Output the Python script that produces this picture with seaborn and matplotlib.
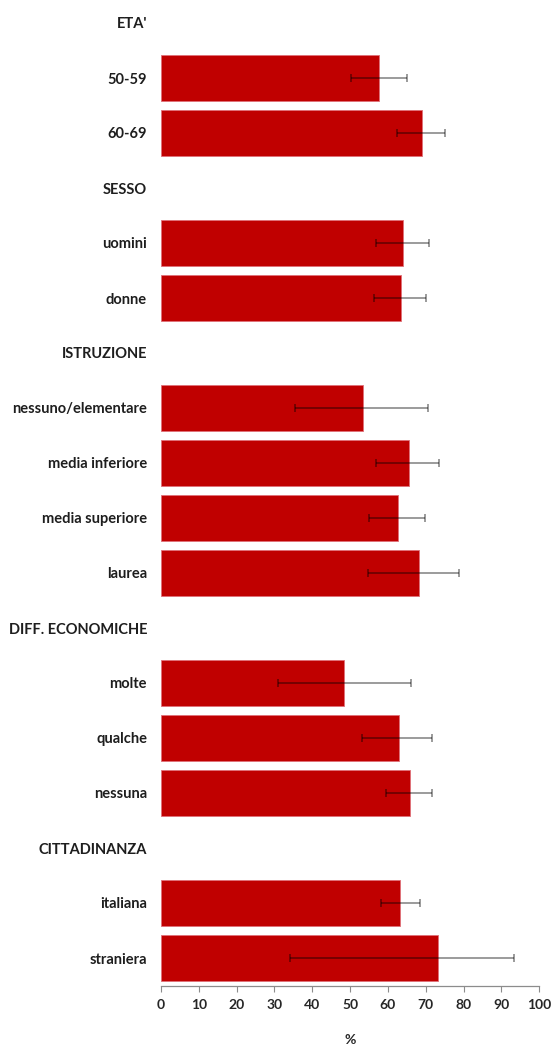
import matplotlib
matplotlib.use("Agg")
import matplotlib.pyplot as plt
import seaborn as sns
import pandas as pd
import numpy as np

# Row labels, top to bottom (group headers have no bar)
row_labels = ["ETA'", "50-59", "60-69",
              "SESSO", "uomini", "donne",
              "ISTRUZIONE", "nessuno/elementare", "media inferiore", "media superiore", "laurea",
              "DIFF. ECONOMICHE", "molte", "qualche", "nessuna",
              "CITTADINANZA", "italiana", "straniera"]

categories = ["50-59", "60-69", "uomini", "donne",
              "nessuno/elementare", "media inferiore", "media superiore", "laurea",
              "molte", "qualche", "nessuna", "italiana", "straniera"]
values = [57.6, 68.9, 64.1, 63.4, 53.4, 65.6, 62.7, 68.1, 48.3, 62.8, 65.9, 63.3, 73.1]
ci_low = [50.1, 62.4, 56.8, 56.3, 35.4, 56.8, 54.9, 54.7, 30.9, 53.1, 59.5, 58.2, 34.0]
ci_high = [65.0, 75.1, 70.9, 70.0, 70.7, 73.4, 69.9, 78.9, 66.1, 71.6, 71.7, 68.5, 93.3]

x_ticks = list(range(0, 101, 10))

sns.set_theme(style="white")
plt.rcParams['font.family'] = ['Lato', 'DejaVu Sans']

W, H = 553, 1046
fig = plt.figure(figsize=(W / 100, H / 100), dpi=100)
# axes placed in pixel coordinates
left_px, right_px = 161, 539.3
top_px, bottom_px = -4.5, 985.5
ax = fig.add_axes([left_px / W, (H - bottom_px) / H,
                   (right_px - left_px) / W, (bottom_px - top_px) / H])

df = pd.DataFrame({"label": categories, "value": values})
sns.barplot(data=df, x="value", y="label", order=row_labels, orient="h",
            color="#C00000", saturation=1, width=0.82,
            edgecolor="#e07078", linewidth=0.6, ax=ax)

pos = {lab: i for i, lab in enumerate(row_labels)}
ypos = [pos[c] for c in categories]
v = np.array(values)
err = [v - np.array(ci_low), np.array(ci_high) - v]
# semi-transparent black: dark over the bars, grey over the background
ax.errorbar(values, ypos, xerr=err, fmt="none", ecolor=(0, 0, 0, 0.5),
            elinewidth=1.1, capsize=3, capthick=1.1, zorder=5)

ax.set_xlim(0, 100)
ax.set_ylim(17.5, -0.5)
ax.set_xticks(x_ticks)
ax.set_xticklabels([str(t) for t in x_ticks], fontsize=10, fontweight="bold", color="#262626")
ax.set_yticks(range(len(row_labels)))
ax.set_yticklabels(row_labels, fontsize=10.5, fontweight="bold", color="#1e1e1e")
ax.tick_params(axis="y", length=0, pad=10)
ax.tick_params(axis="x", direction="out", length=4, width=0.8, color="#8c8c8c",
               bottom=True, pad=6)
for s in ["top", "right", "left"]:
    ax.spines[s].set_visible(False)
ax.spines["bottom"].set_color("#8c8c8c")
ax.spines["bottom"].set_linewidth(0.9)
ax.set_ylabel("")
ax.set_xlabel("%", fontsize=10, fontweight="bold", color="#262626", labelpad=16)

fig.savefig("out.png", dpi=100)
